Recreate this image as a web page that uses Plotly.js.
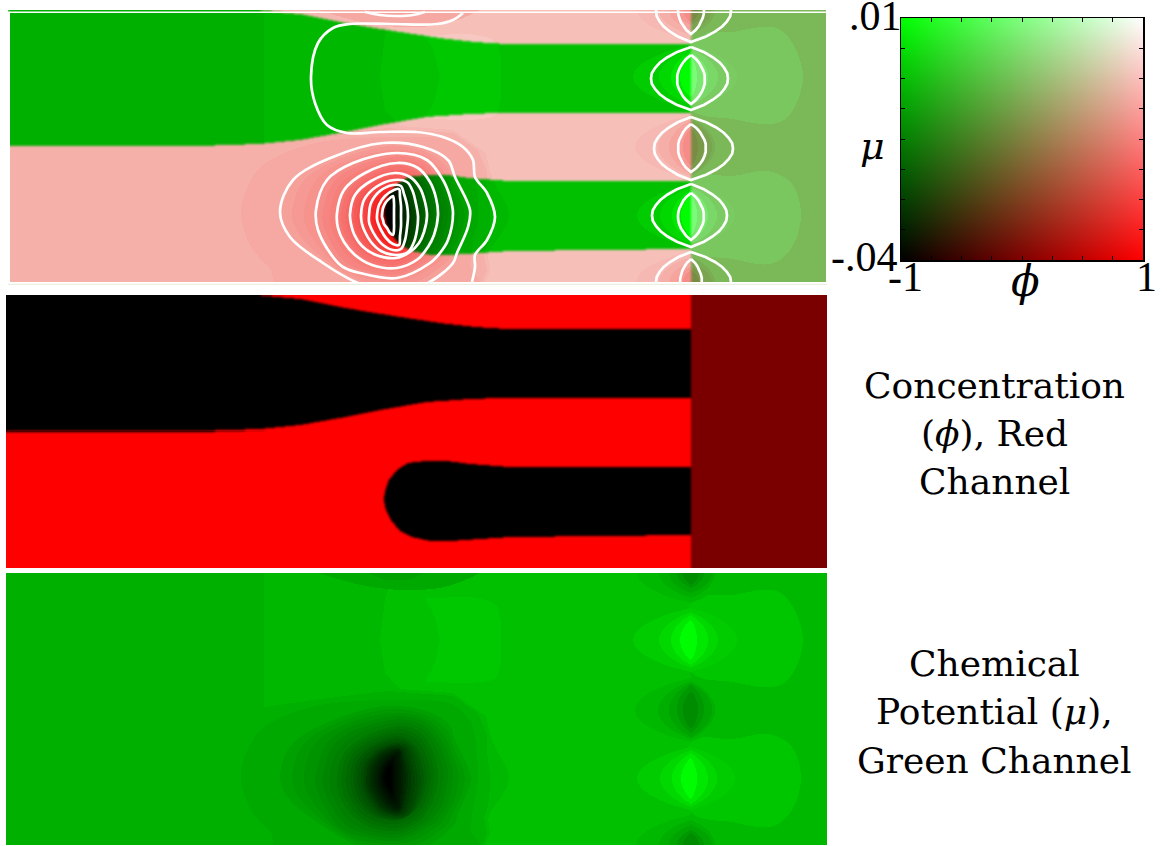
<!DOCTYPE html>
<html><head><meta charset="utf-8">
<script src="https://cdn.plot.ly/plotly-3.0.1.min.js"></script>
<style>html,body{margin:0;padding:0;background:#fff}</style></head>
<body><div id="chart" style="width:1167px;height:846px"></div>
<script>
// ---- values (x in picture px, y in px below the top of the field) ----
const fingerPhi = [[6,0],[255,0],[300,4],[340,12],[375,18],[407,23],[440,28],[475,32],[507,34],[691,34],[691,103],[500,103],[470,104],[427,107],[380,115],[340,123],[300,130],[260,134],[200,136],[6,136]];
const tonguePhi = [[691,171],[510,171],[470,168],[447,165],[425,165],[408,167],[397,174],[389,184],[385,195],[384,204],[386,214],[391,224],[400,235],[412,241],[430,245],[450,245],[480,243],[510,241],[691,239]];
const phiRight = 0.48, phiEdge = 691;

const greenBase = 176;
const plateauBands = [
  {g:184, p:[[264,0],[827,0],[827,272],[482,272],[487,260],[484,245],[488,232],[490,215],[490,200],[487,180],[487,162],[478,140],[453,123],[387,118],[320,126],[264,134]]},
  {g:192, p:[[395,0],[385,25],[380,67],[385,100],[400,116],[453,120],[486,143],[490,162],[497,178],[504,190],[508,198],[509,205],[507,214],[500,226],[491,238],[488,246],[490,260],[485,272],[691,272],[691,0]]},
  {g:200, p:[[425,25],[434,42],[440,67],[434,92],[425,109],[470,110],[490,108],[498,103],[501,87],[501,50],[498,34],[490,28],[470,24]]}
];
const lobes = [
  {g:198, p:[[690,30],[733,22],[773,17],[793,34],[803,67],[793,100],[773,114],[733,109],[690,97]]},
  {g:198, p:[[690,170],[733,166],[767,161],[792,174],[801,205],[792,237],[770,254],[733,249],[690,237]]}
];
const outerBand = {g:169, p:[[241,203],[250,172],[270,150],[320,132],[387,127],[445,129],[468,145],[475,165],[478,205],[473,235],[470,255],[466,280],[295,280],[270,258],[250,235]]};
const topBands = [
  {g:169, p:[[310,-10],[345,8],[400,17],[452,12],[478,-10]]},
  {g:160, p:[[362,-8],[380,5],[397,7],[414,5],[428,-8]]}
];
const ring1 = [[280,202],[293,170],[333,147],[383,133],[423,137],[448,150],[455,167],[470,200],[468,217],[457,243],[453,253],[428,273],[397,283],[358,273],[323,253],[290,227]];
const ring2 = [[316,200],[327,170],[353,153],[397,143],[427,150],[443,170],[450,187],[453,203],[448,230],[440,243],[430,253],[397,268],[360,263],[343,257],[333,247],[318,220]];
const ring3 = [[337,203],[344,180],[365,163],[397,153],[418,158],[430,172],[436,188],[438,205],[434,225],[428,237],[418,249],[397,258],[372,255],[355,245],[344,232],[338,218]];
const ring4 = [[350,204],[355,185],[371,171],[395,163],[410,167],[420,178],[425,192],[427,206],[424,222],[419,233],[410,242],[396,248],[376,245],[362,236],[354,224],[351,214]];
const ring5 = [[361,205],[364,190],[376,177],[394,170],[407,172],[413,182],[416,194],[418,206],[417,220],[414,232],[408,242],[396,245],[381,241],[371,232],[365,222],[362,214]];
const ring6 = [[369,205],[371,193],[380,181],[393,175],[401,176],[404,184],[407,195],[408,206],[407,218],[405,230],[401,239],[393,240],[383,235],[376,227],[371,218],[369,212]];
const ring7 = [[377,205],[379,195],[385,186],[394,180],[399,179],[400,187],[401,196],[401,206],[401,216],[400,226],[399,235],[393,234],[386,228],[381,220],[378,213],[377,209]];
const ring8 = [[382,205],[383,198],[386,192],[390,188],[393,186],[394,193],[394,200],[394,206],[394,212],[394,219],[393,225],[390,223],[387,218],[384,214],[383,210],[382,207]];
const core  = [[385,205],[386,200],[388,196],[390,194],[391,194],[391,198],[391,201],[391,205],[391,209],[391,212],[391,216],[390,216],[388,213],[387,210],[386,208],[385,206]];
const ringSet = [ring1,ring2,ring3,ring4,ring5,ring6,ring7,ring8,core];
const ringGreen = [160,140,120,98,75,48,25,10,0];

// left, right, top, bottom, green
const lensBands = [
 [633,737,35,99,204],[659,718,39,95,216],[671,708,42,92,232],[680,697,47,87,252],
 [635,725,105,169,184],[658,715,108,166,174],[669,712,110,164,164],[677,704,112,160,152],[683,698,118,156,140],
 [637,735,174,237,204],[660,717,177,234,216],[672,708,180,231,232],[681,697,185,226,252],
 [637,725,-30,30,184],[659,715,-25,25,174],[669,712,-20,20,164],[677,704,-15,15,152],[683,699,-12,12,140],
 [636,725,242,302,184],[659,715,247,297,174],[669,712,252,292,164],[677,704,257,287,152],[683,699,260,284,140]
];
const lensProfile = [0,.36,.60,.78,.90,.98,1,.98,.90,.78,.60,.36,0];
const lensCentre = 691;
// white level lines
const levelOpen = [[463,3],[453,10],[437,14],[390,14],[350,14],[333,18],[318,33],[311,67],[315,93],[327,115],[347,123],[380,122],[417,122],[443,127],[463,137],[473,150],[475,167],[487,183],[495,207],[487,230],[475,245],[475,257],[472,272]];
const levelTop = [[365,2],[380,5],[397,6],[413,5],[425,2]];
const lensLevels = [[651,728,37,100],[677,705,45,94],[654,733,107,170],[678,706,114,162],[652,727,174,237],[678,704,183,230],[656,731,-30,32],[678,704,-24,24],[656,731,242,302],[680,702,249,295]];

const keyPhi = [-1,1], keyMu = [-0.04,0.01], keyTicksPhi=[-1,-.75,-.5,-.25,0,.25,.5,.75,1], keyTicksMu=[-.04,-.03375,-.0275,-.02125,-.015,-.00875,-.0025,.00375,.01];
const keyLabels = [[".01",875,16],["-.04",864,257],["-1",905,277],["1",1146,277]];
const keySymbols = [["ϕ",1025,281,42],["μ",872,146,38]];
const captions = [["Concentration",995,385],["(<i>ϕ</i>), Red",995,433],["Channel",995,481],["Chemical",995,663],["Potential (<i>μ</i>),",995,711],["Green Channel",995,760]];

// ---- rasterise the bands into the fields ----
const X0=6, NX=821, NY=272;
const makeField=v=>Array.from({length:NY},()=>new Float64Array(NX).fill(v));
function fill(field,poly,v){
  for(let j=0;j<NY;j++){
    const y=j+.5, xs=[];
    for(let i=0;i<poly.length;i++){
      const a=poly[i], b=poly[(i+1)%poly.length];
      if((a[1]<=y)!==(b[1]<=y)) xs.push(a[0]+(y-a[1])/(b[1]-a[1])*(b[0]-a[0]));
    }
    xs.sort((p,q)=>p-q);
    for(let k=0;k+1<xs.length;k+=2){
      const c0=Math.max(0,Math.ceil(xs[k]-X0-.5)), c1=Math.min(NX-1,Math.floor(xs[k+1]-X0-.5));
      for(let c=c0;c<=c1;c++) field[j][c]=v;
    }
  }
}
function smooth(p,n=5){
  const o=[],L=p.length;
  for(let i=0;i<L;i++){
    const a=p[(i-1+L)%L],b=p[i],c=p[(i+1)%L],d=p[(i+2)%L];
    for(let s=0;s<n;s++){
      const t=s/n,t2=t*t,t3=t2*t;
      o.push([0,1].map(k=>.5*(2*b[k]+(c[k]-a[k])*t+(2*a[k]-5*b[k]+4*c[k]-d[k])*t2+(3*b[k]-a[k]-3*c[k]+d[k])*t3)));
    }
  }
  return o;
}
function lensPath(l,r,t,b){
  const n=lensProfile.length-1, L=[], R=[];
  lensProfile.forEach((p,i)=>{const y=t+(b-t)*i/n; R.push([lensCentre+(r-lensCentre)*p,y]); L.push([lensCentre-(lensCentre-l)*p,y]);});
  return R.concat(L.reverse().slice(1));
}
function blur(f){
  const o=makeField(0);
  for(let j=0;j<NY;j++) for(let i=0;i<NX;i++){
    let s=0,n=0;
    for(let dj=-1;dj<=1;dj++) for(let di=-1;di<=1;di++){
      const a=j+dj,c=i+di;
      if(a>=0&&a<NY&&c>=0&&c<NX){s+=f[a][c];n++;}
    }
    o[j][i]=s/n;
  }
  return o;
}
let phi=makeField(1);
fill(phi,fingerPhi,0); fill(phi,tonguePhi,0);
fill(phi,[[phiEdge,-1],[830,-1],[830,273],[phiEdge,273]],phiRight);
phi=blur(blur(phi));

const mu=makeField(greenBase);
plateauBands.forEach(b=>fill(mu,b.p,b.g));
fill(mu,smooth(outerBand.p),outerBand.g);
topBands.forEach(b=>fill(mu,smooth(b.p),b.g));
ringSet.forEach((ring,i)=>{
  if(i===0){fill(mu,smooth(ring),ringGreen[0]);return;}
  const prev=ringSet[i-1];
  [1/3,2/3,1].forEach(t=>{
    fill(mu,smooth(ring.map((q,k)=>[prev[k][0]+(q[0]-prev[k][0])*t,prev[k][1]+(q[1]-prev[k][1])*t])),ringGreen[i-1]+(ringGreen[i]-ringGreen[i-1])*t);
  });
});
lobes.forEach(b=>fill(mu,smooth(b.p),b.g));
lensBands.forEach(b=>fill(mu,lensPath(b[0],b[1],b[2],b[3]),b[4]));

// ---- the composite: red = phi, green = mu, blue = red x green ----
const C0=10-X0, C1=826-X0;
const composite=phi.map((row,j)=>{
  const o=[];
  for(let i=C0;i<C1;i++){
    const r=Math.min(row[i]*255,246), g=mu[j][i];
    o.push([r,g,r*g/255]);
  }
  return o;
});
const KEYN=242;
const keyImage=[];
for(let j=0;j<KEYN;j++){const row=[];for(let i=0;i<KEYN;i++){const a=(i+.5)/KEYN,b=(j+.5)/KEYN;row.push([255*a,255*b,255*a*b]);}keyImage.push(row);}

// ---- figure ----
const W=1167,H=846;
const dom=(a,b,T)=>[a/T,b/T], domY=(a,b)=>[1-b/H,1-a/H];
const hidden=(extra)=>Object.assign({visible:false,fixedrange:true},extra);
const traces=[
 {type:'image',z:composite,x0:10.5,dx:1,y0:.5,dy:1,xaxis:'x',yaxis:'y',hoverinfo:'skip'},
 {type:'heatmap',z:phi.map(r=>Array.from(r)),x0:X0+.5,dx:1,y0:.5,dy:1,xaxis:'x2',yaxis:'y2',zmin:0,zmax:1,colorscale:[[0,'#000'],[1,'#f00']],showscale:false,hoverinfo:'skip'},
 {type:'heatmap',z:mu.map(r=>Array.from(r)),x0:X0+.5,dx:1,y0:.5,dy:1,xaxis:'x3',yaxis:'y3',zmin:0,zmax:255,colorscale:[[0,'#000'],[1,'#0f0']],showscale:false,hoverinfo:'skip'},
 {type:'image',z:keyImage,x0:keyPhi[0]+1/KEYN,dx:2/KEYN,y0:keyMu[0]+.025/KEYN,dy:.05/KEYN,xaxis:'x4',yaxis:'y4',hoverinfo:'skip'}
];
const wline=(p,spl)=>({type:'scatter',mode:'lines',x:p.map(q=>q[0]),y:p.map(q=>q[1]),xaxis:'x',yaxis:'y',hoverinfo:'skip',showlegend:false,line:{color:'#fff',width:2.7,shape:spl?'spline':'linear',smoothing:1}});
traces.push(wline(levelOpen,true),wline(levelTop,true));
ringSet.slice(0,8).forEach(r=>traces.push(wline(r.concat([r[0]]),true)));
lensLevels.forEach(l=>traces.push(wline(lensPath(l[0],l[1],l[2],l[3]).concat([[lensCentre,l[2]]]),false)));

const ann=(t,x,y,size,fam,xa)=>({text:t,x:x/W,y:1-y/H,xref:'paper',yref:'paper',showarrow:false,xanchor:xa||'center',yanchor:'middle',font:{size:size,family:fam,color:'#000'}});
const serif='Liberation Serif', wide='DejaVu Serif';
const annotations=[].concat(
  keyLabels.map(l=>ann(l[0],l[1],l[2],42,serif)),
  keySymbols.map(l=>ann('<i>'+l[0]+'</i>',l[1],l[2],l[3],wide)),
  captions.map(l=>ann(l[0],l[1],l[2],36,wide))
);
const layout={
  width:W,height:H,autosize:false,margin:{l:0,r:0,t:0,b:0},paper_bgcolor:'#fff',plot_bgcolor:'#fff',showlegend:false,
  xaxis:hidden({domain:dom(10,826,W),range:[10,826]}),
  yaxis:hidden({domain:domY(10,282),range:[272,0]}),
  xaxis2:hidden({domain:dom(6,827,W),range:[6,827],anchor:'y2'}),
  yaxis2:hidden({domain:domY(295,568),range:[272,0],anchor:'x2'}),
  xaxis3:hidden({domain:dom(6,827,W),range:[6,827],anchor:'y3'}),
  yaxis3:hidden({domain:domY(573,845),range:[272,0],anchor:'x3'}),
  xaxis4:{domain:dom(901,1143,W),range:keyPhi,anchor:'y4',fixedrange:true,tickvals:keyTicksPhi,ticks:'inside',ticklen:4,tickcolor:'#000',showticklabels:false,showgrid:false,zeroline:false,showline:true,linecolor:'#000',linewidth:1.5,mirror:'ticks'},
  yaxis4:{domain:domY(18,260),range:keyMu,anchor:'x4',fixedrange:true,scaleanchor:'x4',scaleratio:40,tickvals:keyTicksMu,ticks:'inside',ticklen:4,tickcolor:'#000',showticklabels:false,showgrid:false,zeroline:false,showline:true,linecolor:'#000',linewidth:1.5,mirror:'ticks'},
  shapes:[
    {type:'rect',xref:'x',yref:'y',x0:10,x1:826,y0:1.5,y1:3,fillcolor:'#fff',line:{width:0},layer:'above'},
    {type:'rect',xref:'paper',yref:'paper',x0:8/W,x1:10/W,y0:1-11.5/H,y1:1-10/H,fillcolor:'#40bb30',line:{width:0},layer:'above'},
    {type:'rect',xref:'paper',yref:'paper',x0:8/W,x1:827/W,y0:1-285/H,y1:1-283.7/H,fillcolor:'#eaefe0',line:{width:0},layer:'above'}
  ],
  annotations:annotations
};
Plotly.newPlot('chart',traces,layout,{displayModeBar:false,staticPlot:true});
</script></body></html>
